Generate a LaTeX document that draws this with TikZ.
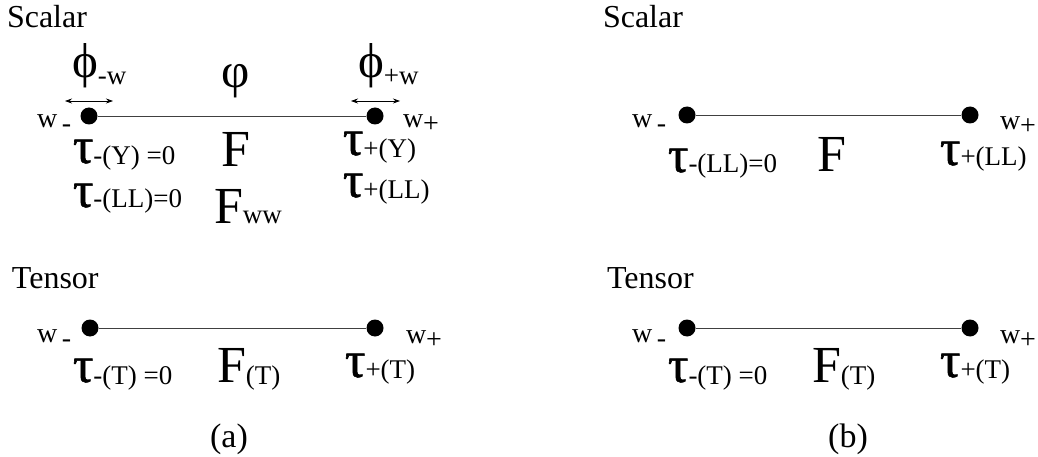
\documentclass[tikz,border=0pt]{standalone}
\usepackage{fontspec}
\setmainfont{Liberation Serif}
\newfontfamily\taufam[FakeBold=1.2]{Liberation Serif}
\usetikzlibrary{arrows.meta}
\newcommand{\bigf}{\fontsize{49}{49}\selectfont}
\newcommand{\bigF}{\fontsize{52}{52}\selectfont}
\newcommand{\subf}{\fontsize{27}{27}\selectfont}
\newcommand{\wf}{\fontsize{28}{28}\selectfont}
\newcommand{\tauc}{{\taufam\fontsize{51}{51}\selectfont τ}}
\begin{document}
\begin{tikzpicture}[x=1pt,y=-1pt,
  dot/.style={circle,fill=black,inner sep=0pt,minimum size=17pt},
  conn/.style={line width=0.9pt,draw=black!75},
  dbl/.style={line width=0.7pt,{Stealth[length=7pt,width=5pt]}-{Stealth[length=7pt,width=5pt]}},
  txt/.style={inner sep=0pt,outer sep=0pt,anchor=base west},
  lab/.style={txt,font=\fontsize{32}{32}\selectfont},
  captxt/.style={inner sep=0pt,anchor=base,font=\fontsize{34}{34}\selectfont}]
\useasboundingbox (0,0) rectangle (1038,457);
% ---------- panel (a), scalar
\node[lab] (sa) at (7,28) {Scalar};
\node[dot] (a1) at (89,116) {};
\node[dot] (a2) at (375,116) {};
\draw[conn] (a1) -- (a2);
\node[txt] (phm) at (72,78) {\bigf ϕ\raisebox{-7pt}{\subf -w}};
\node[txt] (phc) at (221,88) {\bigf φ};
\node[txt] (php) at (358,78) {\bigf ϕ\raisebox{-7pt}{\subf +w}};
\coordinate (l1) at (65,101); \coordinate (l2) at (113,101);
\coordinate (r1) at (351,101); \coordinate (r2) at (400,101);
\draw[dbl] (l1) -- (l2);
\draw[dbl] (r1) -- (r2);
\node[txt] (wma) at (37,128) {\wf w\,\raisebox{-5pt}{-}};
\node[txt] (wpa) at (403,128) {\wf w\raisebox{-5pt}{+}};
\node[txt] (tya) at (73,163) {\tauc\raisebox{-2pt}{\subf -(Y) =0}};
\node[txt] (fa) at (221,167) {\bigF F};
\node[txt] (tpya) at (343,155) {\tauc\raisebox{-3pt}{\subf +(Y)}};
\node[txt] (tla) at (73,207) {\tauc\raisebox{-1pt}{\subf -(LL)=0}};
\node[txt] (tpla) at (343,197) {\tauc\raisebox{-1pt}{\subf +(LL)}};
\node[txt] (fwa) at (214,223) {\bigF F{\subf ww}};
% ---------- panel (a), tensor
\node[lab] (ta) at (12,288) {Tensor};
\node[dot] (a3) at (90,328) {};
\node[dot] (a4) at (375,328) {};
\draw[conn] (a3) -- (a4);
\node[txt] (wmat) at (37,342) {\wf w\,\raisebox{-5pt}{-}};
\node[txt] (wpat) at (406,343) {\wf w\raisebox{-5pt}{+}};
\node[txt] (tta) at (73,382) {\tauc\raisebox{-2pt}{\subf -(T) =0}};
\node[txt] (fta) at (217,382) {\bigF F\raisebox{-2pt}{\subf (T)}};
\node[txt] (tpta) at (345,377) {\tauc\raisebox{-1pt}{\subf +(T)}};
\node[captxt] (capa) at (229,447) {(a)};
% ---------- panel (b), scalar
\node[lab] (sb) at (603,28) {Scalar};
\node[dot] (b1) at (687,115) {};
\node[dot] (b2) at (970,115) {};
\draw[conn] (b1) -- (b2);
\node[txt] (wmb) at (632,128) {\wf w\,\raisebox{-5pt}{-}};
\node[txt] (wpb) at (1000,130) {\wf w\raisebox{-5pt}{+}};
\node[txt] (tlb) at (668,172) {\tauc\raisebox{-1pt}{\subf -(LL)=0}};
\node[txt] (fb) at (817,172) {\bigF F};
\node[txt] (tplb) at (940,165) {\tauc\raisebox{-1pt}{\subf +(LL)}};
% ---------- panel (b), tensor
\node[lab] (tb) at (607,288) {Tensor};
\node[dot] (b3) at (687,328) {};
\node[dot] (b4) at (970,328) {};
\draw[conn] (b3) -- (b4);
\node[txt] (wmbt) at (632,342) {\wf w\,\raisebox{-5pt}{-}};
\node[txt] (wpbt) at (1000,343) {\wf w\raisebox{-5pt}{+}};
\node[txt] (ttb) at (668,382) {\tauc\raisebox{-2pt}{\subf -(T) =0}};
\node[txt] (ftb) at (812,382) {\bigF F\raisebox{-2pt}{\subf (T)}};
\node[txt] (tptb) at (940,377) {\tauc\raisebox{-1pt}{\subf +(T)}};
\node[captxt] (capb) at (848,447) {(b)};
\end{tikzpicture}
\end{document}
